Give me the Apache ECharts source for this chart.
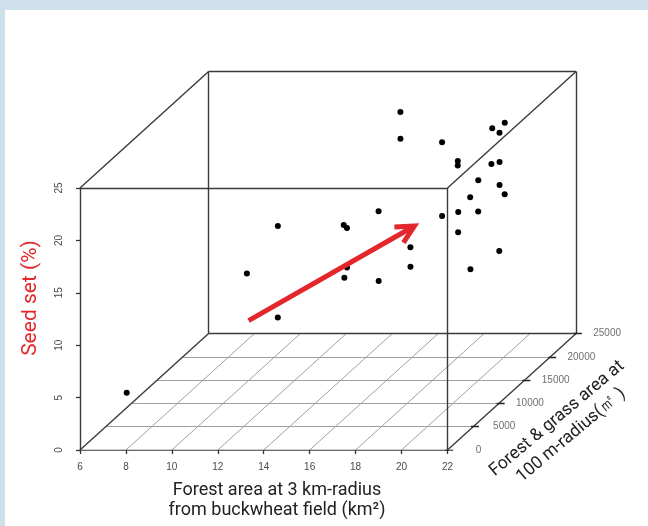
<!DOCTYPE html>
<html><head><meta charset="utf-8">
<script src="https://cdn.jsdelivr.net/npm/echarts@6/dist/echarts.min.js"></script>
<style>html,body{margin:0;padding:0;background:#fff}#c{width:648px;height:526px}</style>
</head><body><div id="c"></div>
<script>
// ---- axis ticks ----
const xTicks = [6, 8, 10, 12, 14, 16, 18, 20, 22];
const zTicks = [0, 5, 10, 15, 20, 25];
const yTicks = [0, 5000, 10000, 15000, 20000, 25000];
const xRange = [6, 22];
const yRange = [0, 25000];
const zRange = [0, 25];

// ---- data: x = forest area 3 km (km2), y = forest&grass 100 m (m2), z = seed set (%) ----
const pointX = [15.47, 15.92, 18.18, 19.02, 19.34, 19.56, 19.09, 19.31, 19.88, 20.01,
                19.98, 20.46, 20.57, 20.30, 16.76, 19.30, 19.78, 20.20, 13.27, 15.69,
                15.83, 20.00, 18.37, 20.67, 12.37, 18.82, 16.28, 16.39, 17.66, 20.76,
                13.94, 7.81];
const pointY = [20000, 18000, 16000, 22000, 23000, 21000, 15000, 14000, 18000, 19000,
                15000, 17000, 17500, 12000, 10000, 11000, 12000, 14000, 6000, 8000,
                8000, 11000, 9000, 16000, 4000, 7000, 6000, 5000, 6000, 10000,
                3000, 1000];
const pointZ = [23.36, 21.70, 22.24, 20.92, 21.00, 20.94, 20.91, 20.91, 19.28, 19.04,
                19.06, 17.73, 16.61, 18.78, 18.33, 17.43, 17.38, 16.54, 18.70, 17.91,
                17.62, 15.88, 15.34, 11.87, 15.07, 14.38, 14.74, 14.22, 13.45, 12.80,
                11.31, 5.02];

// trend arrow (annotation) in data space
const arrowStart = [13.34, 0, 12.34];
const arrowEnd = [20.56, 0, 21.37];

// ---- oblique projection (scatterplot3d style) ----
const DU = 5.6, DV = 11.12; // depth offset of the full y range, in x / z units
function proj(x, y, z) {
  const k = (y - yRange[0]) / (yRange[1] - yRange[0]);
  return [x + k * DU, z + k * DV];
}
const [x0, x1] = xRange, [y0, y1] = yRange, [z0, z1] = zRange;
const boxEdges = [
  [[x0, y0, z0], [x1, y0, z0]], [[x0, y0, z1], [x1, y0, z1]],
  [[x0, y0, z0], [x0, y0, z1]], [[x1, y0, z0], [x1, y0, z1]],
  [[x0, y1, z0], [x1, y1, z0]], [[x0, y1, z1], [x1, y1, z1]],
  [[x0, y1, z0], [x0, y1, z1]], [[x1, y1, z0], [x1, y1, z1]],
  [[x0, y0, z0], [x0, y1, z0]], [[x0, y0, z1], [x0, y1, z1]],
  [[x1, y0, z1], [x1, y1, z1]], [[x1, y0, z0], [x1, y1, z0]]
];
const floorGrid = [];
yTicks.slice(1, -1).forEach(y => floorGrid.push([[x0, y, z0], [x1, y, z0]]));
xTicks.slice(1, -1).forEach(x => floorGrid.push([[x, y0, z0], [x, y1, z0]]));
const depthTickSegs = yTicks.map(y => {
  const p = proj(x1, y, z0);
  return [[p[0] - 0.1, p[1]], [p[0] + 0.25, p[1]]];
});

const toLines = segs => segs.map(s => ({coords: [proj(...s[0]), proj(...s[1])]}));

const chart = echarts.init(document.getElementById('c'), null, {renderer: 'canvas'});
const tickFont = 'Liberation Sans';
chart.setOption({
  animation: false,
  backgroundColor: '#fff',
  grid: {left: 80, right: 62.7, top: 30.8, bottom: 76, containLabel: false, outerBoundsMode: 'none'},
  xAxis: {
    type: 'value', min: 6, max: 28, interval: 2,
    axisLine: {show: false}, splitLine: {show: false},
    axisTick: {show: true, customValues: xTicks, length: 4, lineStyle: {color: '#333', width: 1.3}},
    axisLabel: {customValues: xTicks, color: '#4a4a4a', fontSize: 10, fontFamily: tickFont, margin: 12}
  },
  yAxis: {
    type: 'value', min: 0, max: 40, interval: 5,
    axisLine: {show: false}, splitLine: {show: false},
    axisTick: {show: true, customValues: zTicks, length: 4, lineStyle: {color: '#333', width: 1.3}},
    axisLabel: {customValues: zTicks, rotate: 90, color: '#4a4a4a', fontSize: 10, fontFamily: tickFont, margin: 16}
  },
  graphic: [
    {type: 'rect', shape: {x: 0, y: 0, width: 648, height: 10}, style: {fill: '#cde0eb'}, silent: true},
    {type: 'rect', shape: {x: 0, y: 0, width: 5, height: 526}, style: {fill: '#cde0eb'}, silent: true},
    {type: 'text', x: 277, y: 500, style: {text: 'Forest area at 3 km-radius\nfrom buckwheat field (km²)', align: 'center', verticalAlign: 'middle', font: '18px Roboto', fill: '#222', lineHeight: 20}},
    {type: 'text', x: 31, y: 298, rotation: Math.PI / 2, style: {text: 'Seed set (%)', align: 'center', verticalAlign: 'middle', font: '21px Roboto', fill: '#e3262b'}},
    {type: 'text', x: 564, y: 427, rotation: 40 * Math.PI / 180, style: {text: 'Forest & grass area at\n100 m-radius(㎡ )', align: 'center', verticalAlign: 'middle', font: '17.5px Roboto', fill: '#222', lineHeight: 22}}
  ],
  series: [
    {type: 'lines', coordinateSystem: 'cartesian2d', silent: true, z: 1,
     data: toLines(floorGrid), lineStyle: {color: '#a0a0a0', width: 1, opacity: 1}},
    {type: 'lines', coordinateSystem: 'cartesian2d', silent: true, z: 2,
     data: toLines(boxEdges), lineStyle: {color: '#3a3a3a', width: 1.4, opacity: 1}},
    {type: 'lines', coordinateSystem: 'cartesian2d', silent: true, z: 2,
     data: depthTickSegs.map(s => ({coords: s})), lineStyle: {color: '#222', width: 1.4, opacity: 1}},
    {type: 'scatter', silent: true, z: 3, symbolSize: 0,
     data: yTicks.map(y => proj(x1, y, z0)),
     label: {show: true, position: 'inside', offset: [31, 0], color: '#4a4a4a', fontSize: 10, fontFamily: tickFont,
             formatter: p => String(yTicks[p.dataIndex])}},
    {type: 'scatter', z: 4, symbol: 'circle', symbolSize: 6, itemStyle: {color: '#000', opacity: 1},
     data: pointX.map((x, i) => proj(x, pointY[i], pointZ[i]))},
    {type: 'custom', z: 5, silent: true, data: [[0, 0]],
     renderItem: (params, api) => {
       const a = api.coord(proj(...arrowStart)), b = api.coord(proj(...arrowEnd));
       const ang = Math.atan2(b[1] - a[1], b[0] - a[0]);
       const L = 20, sp = 0.47;
       const h1 = [b[0] - L * Math.cos(ang - sp), b[1] - L * Math.sin(ang - sp)];
       const h2 = [b[0] - L * Math.cos(ang + sp), b[1] - L * Math.sin(ang + sp)];
       const st = {stroke: '#e3262b', lineWidth: 5, fill: null};
       return {type: 'group', children: [
         {type: 'line', shape: {x1: a[0], y1: a[1], x2: b[0] - 2 * Math.cos(ang), y2: b[1] - 2 * Math.sin(ang)}, style: st},
         {type: 'polyline', shape: {points: [h1, b, h2]}, style: Object.assign({lineJoin: 'miter'}, st)}
       ]};
     }}
  ]
});
</script></body></html>
